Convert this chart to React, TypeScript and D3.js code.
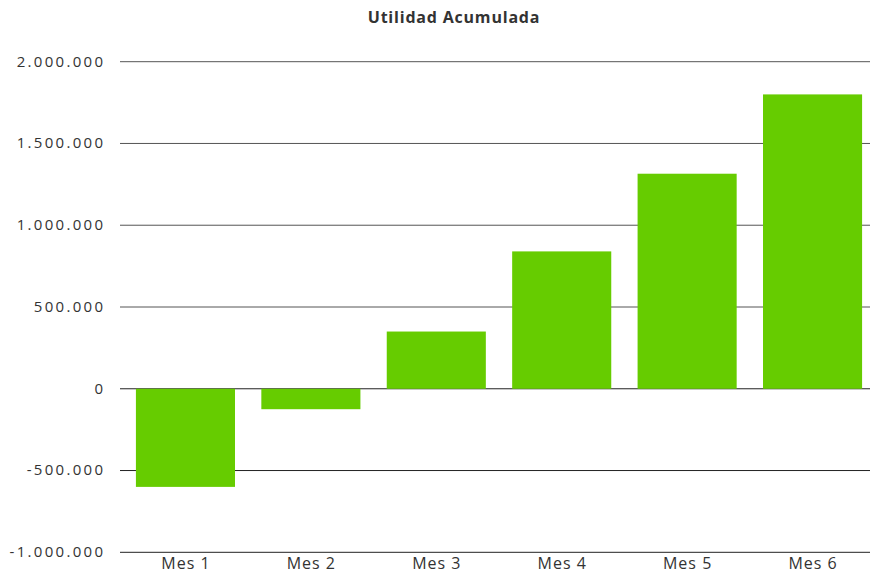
import React from "react";
import * as d3 from "d3";

const categories: string[] = ["Mes 1", "Mes 2", "Mes 3", "Mes 4", "Mes 5", "Mes 6"];
const values: number[] = [-600000, -125000, 350000, 840000, 1315000, 1800000];
const yTicks: number[] = [-1000000, -500000, 0, 500000, 1000000, 1500000, 2000000];
const title = "Utilidad Acumulada";

const W = 870;
const H = 575;

const fmt = (v: number) => {
  const s = Math.abs(v).toString().replace(/\B(?=(\d{3})+(?!\d))/g, ".");
  return (v < 0 ? "-" : "") + s;
};

export default function App() {
  const x = d3
    .scaleBand<string>()
    .domain(categories)
    .range([124, 874])
    .paddingInner(0.21)
    .paddingOuter(0.095);
  const y = d3.scaleLinear().domain([-1000000, 2000000]).range([552.3, 61.7]);
  const font = "'Open Sans', 'DejaVu Sans', sans-serif";
  const tickLS = 2.3;

  return (
    <svg
      width={W}
      height={H}
      style={{ position: "absolute", left: 0, top: 0, background: "#fff" }}
      fontFamily={font}
    >
      <text
        x={454}
        y={23}
        textAnchor="middle"
        fontSize={16}
        fontWeight="bold"
        letterSpacing={0.8}
        fill="#333"
      >
        {title}
      </text>
      {yTicks.map((t) => (
        <g key={t}>
          <line x1={120} x2={870} y1={y(t)} y2={y(t)} stroke={t > 0 ? "#555" : "#222"} strokeWidth={1} />
          <text
            x={103 + tickLS}
            y={y(t)}
            dy="0.32em"
            textAnchor="end"
            fontSize={15}
            letterSpacing={tickLS}
            fill="#333"
          >
            {fmt(t)}
          </text>
        </g>
      ))}
      {categories.map((c, i) => {
        const v = values[i];
        const y0 = y(0);
        const y1 = y(v);
        return (
          <rect
            key={c}
            x={x(c)}
            width={x.bandwidth()}
            y={Math.min(y0, y1)}
            height={Math.abs(y1 - y0)}
            fill="#66cc00"
          />
        );
      })}
      {categories.map((c) => (
        <text
          key={c}
          x={(x(c) as number) + x.bandwidth() / 2 + 0.5}
          y={569}
          textAnchor="middle"
          fontSize={16}
          letterSpacing={1}
          fill="#333"
        >
          {c}
        </text>
      ))}
    </svg>
  );
}
